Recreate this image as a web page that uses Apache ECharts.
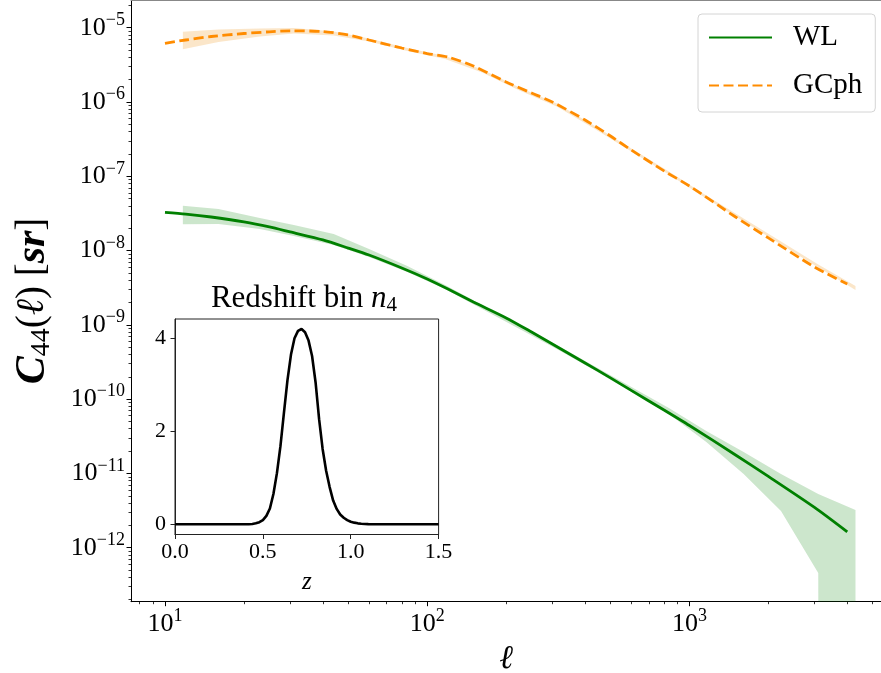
<!DOCTYPE html>
<html>
<head>
<meta charset="utf-8">
<script src="https://cdn.jsdelivr.net/npm/echarts@6/dist/echarts.min.js"></script>
<style>
  html, body { margin: 0; padding: 0; background: #fff; }
  #chart { width: 881px; height: 673px; }
</style>
</head>
<body>
<div id="chart"></div>
<script>
// Angular power spectra C_44(l) for weak lensing (WL) and photometric clustering (GCph)
const ell = [10, 12, 15, 20, 25, 30, 40, 50, 60, 80, 100, 120, 150, 200, 250, 300, 400, 500, 600, 800, 1000, 1500, 2000, 3000, 4000];
const clWL = [3.27e-8, 3.10e-8, 2.83e-8, 2.43e-8, 2.08e-8, 1.78e-8, 1.39e-8, 1.08e-8, 8.7e-9, 5.82e-9,
              4.14e-9, 3.03e-9, 2.03e-9, 1.24e-9, 8.0e-10, 5.52e-10, 3.07e-10, 1.93e-10, 1.31e-10, 7.14e-11,
              4.42e-11, 1.77e-11, 9.1e-12, 3.48e-12, 1.63e-12];
const clGC = [6.17e-6, 6.83e-6, 7.61e-6, 8.35e-6, 8.81e-6, 9.08e-6, 8.89e-6, 7.97e-6, 6.83e-6, 5.33e-6,
              4.49e-6, 4.03e-6, 3.05e-6, 1.86e-6, 1.32e-6, 1.0e-6, 5.73e-7, 3.48e-7, 2.26e-7, 1.18e-7,
              7.4e-8, 2.83e-8, 1.48e-8, 6.0e-9, 3.55e-9];

// Binned multipoles carrying the uncertainty bands
const ellBand = [11.7, 16, 23, 31, 44, 60, 84, 117, 162, 225, 312, 433, 601, 835, 1160, 1610, 2235, 3100, 4300];
const wlLow  = [2.26e-8, 2.28e-8, 1.95e-8, 1.57e-8, 1.19e-8, 8.2e-9, 5.14e-9, 3.04e-9, 1.63e-9, 8.8e-10,
                4.73e-10, 2.47e-10, 1.25e-10, 6.3e-11, 2.65e-11, 9.8e-12, 3.12e-12, 4.56e-13, -4.0e-13];
const wlHigh = [4.02e-8, 3.63e-8, 2.74e-8, 2.21e-8, 1.67e-8, 1.05e-8, 6.19e-9, 3.44e-9, 1.85e-9, 9.95e-10,
                5.36e-10, 2.79e-10, 1.46e-10, 7.6e-11, 3.72e-11, 1.94e-11, 9.8e-12, 5.28e-12, 3.22e-12];
const gcLow  = [5.12e-6, 6.42e-6, 7.61e-6, 8.35e-6, 7.85e-6, 6.52e-6, 4.86e-6, 3.79e-6, 2.49e-6, 1.43e-6,
                8.7e-7, 4.4e-7, 2.16e-7, 1.06e-7, 5.02e-8, 2.46e-8, 1.21e-8, 5.91e-9, 2.94e-9];
const gcHigh = [8.84e-6, 9.46e-6, 9.75e-6, 9.91e-6, 8.89e-6, 7.15e-6, 5.33e-6, 4.16e-6, 2.74e-6, 1.57e-6,
                9.55e-7, 4.83e-7, 2.37e-7, 1.16e-7, 5.51e-8, 2.70e-8, 1.32e-8, 6.49e-9, 3.33e-9];

// Redshift distribution of tomographic bin 4
const zGrid = [0.0, 0.1, 0.2, 0.3, 0.4, 0.42, 0.44, 0.46, 0.48, 0.50, 0.52, 0.54, 0.56, 0.58, 0.60,
               0.62, 0.64, 0.66, 0.68, 0.70, 0.72, 0.74, 0.76, 0.78, 0.80, 0.82, 0.84, 0.86, 0.88, 0.90,
               0.92, 0.94, 0.96, 0.98, 1.00, 1.02, 1.04, 1.06, 1.08, 1.10, 1.12, 1.2, 1.3, 1.4, 1.5];
const nz = [0, 0, 0, 0, 0.001, 0.002, 0.005, 0.02, 0.045, 0.09, 0.18, 0.34, 0.65, 1.10, 1.68,
            2.40, 3.10, 3.65, 4.00, 4.16, 4.20, 4.13, 3.95, 3.62, 3.05, 2.26, 1.62, 1.15, 0.80, 0.51,
            0.33, 0.21, 0.14, 0.09, 0.055, 0.035, 0.02, 0.012, 0.006, 0.003, 0.001, 0, 0, 0, 0];

// Tick marks
const xMajor = [10, 100, 1000];
const yMajor = [1e-12, 1e-11, 1e-10, 1e-9, 1e-8, 1e-7, 1e-6, 1e-5];
const insetXTicks = [0, 0.5, 1.0, 1.5];
const insetYTicks = [0, 2, 4];

// Axis ranges
const xRange = [7.42, 5379];
const yRange = [1.875e-13, 2.36e-5];
const insetYRange = [-0.22, 4.415];

const FONT = "'Liberation Serif', 'Times New Roman', serif";

function minorTicks(lo, hi) {
  const out = [];
  for (let e = Math.floor(Math.log10(lo)); e <= Math.ceil(Math.log10(hi)); e++) {
    for (let m = 2; m <= 9; m++) {
      const v = m * Math.pow(10, e);
      if (v >= lo && v <= hi) out.push(v);
    }
  }
  return out;
}
const xMinor = minorTicks(xRange[0], xRange[1]);
const yMinor = minorTicks(yRange[0], yRange[1]);

const powRich = {
  b: { fontFamily: FONT, fontSize: 26, color: '#000' },
  s: { fontFamily: FONT, fontSize: 18, color: '#000', padding: [0, 0, 15, 0] }
};
function powLabel(v) {
  const e = Math.round(Math.log10(v));
  return '{b|10}{s|' + (e < 0 ? '\u2212' + (-e) : e) + '}';
}

function pairs(xs, ys) { return xs.map((x, i) => [x, ys[i]]); }

// Filled band between lower and upper curves, drawn as one polygon
function band(lo, hi, fill) {
  return {
    type: 'custom', xAxisIndex: 0, yAxisIndex: 0, silent: true, z: 1,
    data: [[ellBand[0], hi[0]]],
    renderItem: function (params, api) {
      const upper = ellBand.map((l, i) => api.coord([l, hi[i]]));
      const lower = ellBand.map((l, i) => api.coord([l, lo[i] > 0 ? lo[i] : Number.MIN_VALUE])).reverse();
      const cs = params.coordSys;
      return {
        type: 'polygon',
        shape: { points: upper.concat(lower) },
        style: { fill: fill, stroke: null },
        clipPath: { type: 'rect', shape: { x: cs.x, y: cs.y, width: cs.width, height: cs.height } }
      };
    }
  };
}

const chart = echarts.init(document.getElementById('chart'), null, { renderer: 'canvas' });

const logAxisBase = { type: 'log', gridIndex: 0, splitLine: { show: false } };

chart.setOption({
  animation: false,
  backgroundColor: '#fff',
  grid: [
    { left: 131, top: 0, right: 0, height: 601.7, show: false, containLabel: false, outerBoundsMode: 'none' },
    { left: 175, top: 319, width: 263.6, height: 215.5, show: true, containLabel: false, outerBoundsMode: 'none',
      backgroundColor: '#fff', borderColor: '#222', borderWidth: 1 }
  ],
  xAxis: [
    Object.assign({}, logAxisBase, {
      min: xRange[0], max: xRange[1], position: 'bottom',
      axisLine: { show: true, lineStyle: { color: '#000', width: 1 } },
      axisTick: { show: true, customValues: xMajor, length: 4.5, lineStyle: { color: '#000', width: 1 } },
      axisLabel: { customValues: xMajor, formatter: powLabel, rich: powRich, margin: 6 },
      name: '\u2113', nameLocation: 'middle', nameGap: 41,
      nameTextStyle: { fontFamily: FONT, fontStyle: 'italic', fontSize: 33, color: '#000' }
    }),
    Object.assign({}, logAxisBase, {
      min: xRange[0], max: xRange[1], position: 'bottom',
      axisLine: { show: false },
      axisTick: { show: true, customValues: xMinor, length: 2.5, lineStyle: { color: '#000', width: 0.8 } },
      axisLabel: { show: false }
    }),
    Object.assign({}, logAxisBase, {
      min: xRange[0], max: xRange[1], position: 'top',
      axisLine: { show: true, lineStyle: { color: '#888', width: 1 } },
      axisTick: { show: false }, axisLabel: { show: false }
    }),
    {
      type: 'value', gridIndex: 1, min: 0, max: 1.5, interval: 0.5, position: 'bottom',
      splitLine: { show: false },
      axisLine: { show: true, onZero: false, lineStyle: { color: '#222', width: 1 } },
      axisTick: { show: true, customValues: insetXTicks, length: 4.5, lineStyle: { color: '#222' } },
      axisLabel: { customValues: insetXTicks, formatter: v => v.toFixed(1), margin: 7,
                   fontFamily: FONT, fontSize: 22, color: '#000' },
      name: 'z', nameLocation: 'middle', nameGap: 35,
      nameTextStyle: { fontFamily: FONT, fontStyle: 'italic', fontSize: 25, color: '#000' }
    }
  ],
  yAxis: [
    Object.assign({}, logAxisBase, {
      min: yRange[0], max: yRange[1], position: 'left',
      axisLine: { show: true, lineStyle: { color: '#000', width: 1 } },
      axisTick: { show: true, customValues: yMajor, length: 4.5, lineStyle: { color: '#000', width: 1 } },
      axisLabel: { customValues: yMajor, formatter: powLabel, rich: powRich, margin: 6 }
    }),
    Object.assign({}, logAxisBase, {
      min: yRange[0], max: yRange[1], position: 'left',
      axisLine: { show: false },
      axisTick: { show: true, customValues: yMinor, length: 2.5, lineStyle: { color: '#000', width: 0.8 } },
      axisLabel: { show: false }
    }),
    {
      type: 'value', gridIndex: 1, min: insetYRange[0], max: insetYRange[1], position: 'left',
      splitLine: { show: false },
      axisLine: { show: true, onZero: false, lineStyle: { color: '#222', width: 1 } },
      axisTick: { show: true, customValues: insetYTicks, length: 4.5, lineStyle: { color: '#222' } },
      axisLabel: { customValues: insetYTicks, margin: 9, fontFamily: FONT, fontSize: 22, color: '#000' }
    }
  ],
  legend: {
    data: ['WL', 'GCph'], orient: 'vertical', left: 698, top: 14,
    padding: [9, 13, 12, 10], itemWidth: 63, itemHeight: 14, itemGap: 19,
    borderColor: '#d4d4d4', borderWidth: 1, borderRadius: 4, backgroundColor: '#fff',
    itemStyle: { opacity: 0, color: 'rgba(0,0,0,0)', borderWidth: 0 },
    textStyle: { fontFamily: FONT, fontSize: 29, color: '#000', padding: [0, 0, 0, 16] }
  },
  series: [
    band(wlLow, wlHigh, 'rgba(0,128,0,0.2)'),
    band(gcLow, gcHigh, 'rgba(240,150,30,0.24)'),
    {
      name: 'WL', type: 'line', xAxisIndex: 0, yAxisIndex: 0, z: 3,
      data: pairs(ell, clWL), showSymbol: false, symbol: 'none', smooth: 0.25,
      lineStyle: { color: '#008000', width: 2.8 }, itemStyle: { color: '#008000' }
    },
    {
      name: 'GCph', type: 'line', xAxisIndex: 0, yAxisIndex: 0, z: 3,
      data: pairs(ell, clGC), showSymbol: false, symbol: 'none', smooth: 0.25,
      lineStyle: { color: '#ff8c00', width: 2.8, type: [10, 4.5] }, itemStyle: { color: '#ff8c00' }
    },
    {
      name: 'n4', type: 'line', xAxisIndex: 3, yAxisIndex: 2, z: 5,
      data: pairs(zGrid, nz), showSymbol: false, symbol: 'none',
      lineStyle: { color: '#000', width: 2.6 }, itemStyle: { color: '#000' }
    }
  ],
  graphic: [
    {
      type: 'text', x: 33, y: 301, rotation: Math.PI / 2, z: 10,
      style: {
        text: '{c|C}{n|44}{r|(}{l|\u2113}{r|)}{r| [}{c|sr}{r|]}',
        align: 'center', verticalAlign: 'middle',
        rich: {
          c: { fontFamily: FONT, fontStyle: 'italic', fontWeight: 'bold', fontSize: 42, fill: '#000' },
          n: { fontFamily: FONT, fontSize: 28, fill: '#000', padding: [18, 0, 0, 0] },
          r: { fontFamily: FONT, fontSize: 39, fill: '#000' },
          l: { fontFamily: FONT, fontStyle: 'italic', fontSize: 39, fill: '#000' }
        }
      }
    },
    {
      type: 'text', x: 304, y: 316, z: 10,
      style: {
        text: '{a|Redshift bin }{i|n}{s|4}',
        align: 'center', verticalAlign: 'bottom',
        rich: {
          a: { fontFamily: FONT, fontSize: 31, fill: '#000' },
          i: { fontFamily: FONT, fontStyle: 'italic', fontSize: 31, fill: '#000' },
          s: { fontFamily: FONT, fontSize: 21, fill: '#000', padding: [14, 0, 0, 0] }
        }
      }
    }
  ]
});
</script>
</body>
</html>
